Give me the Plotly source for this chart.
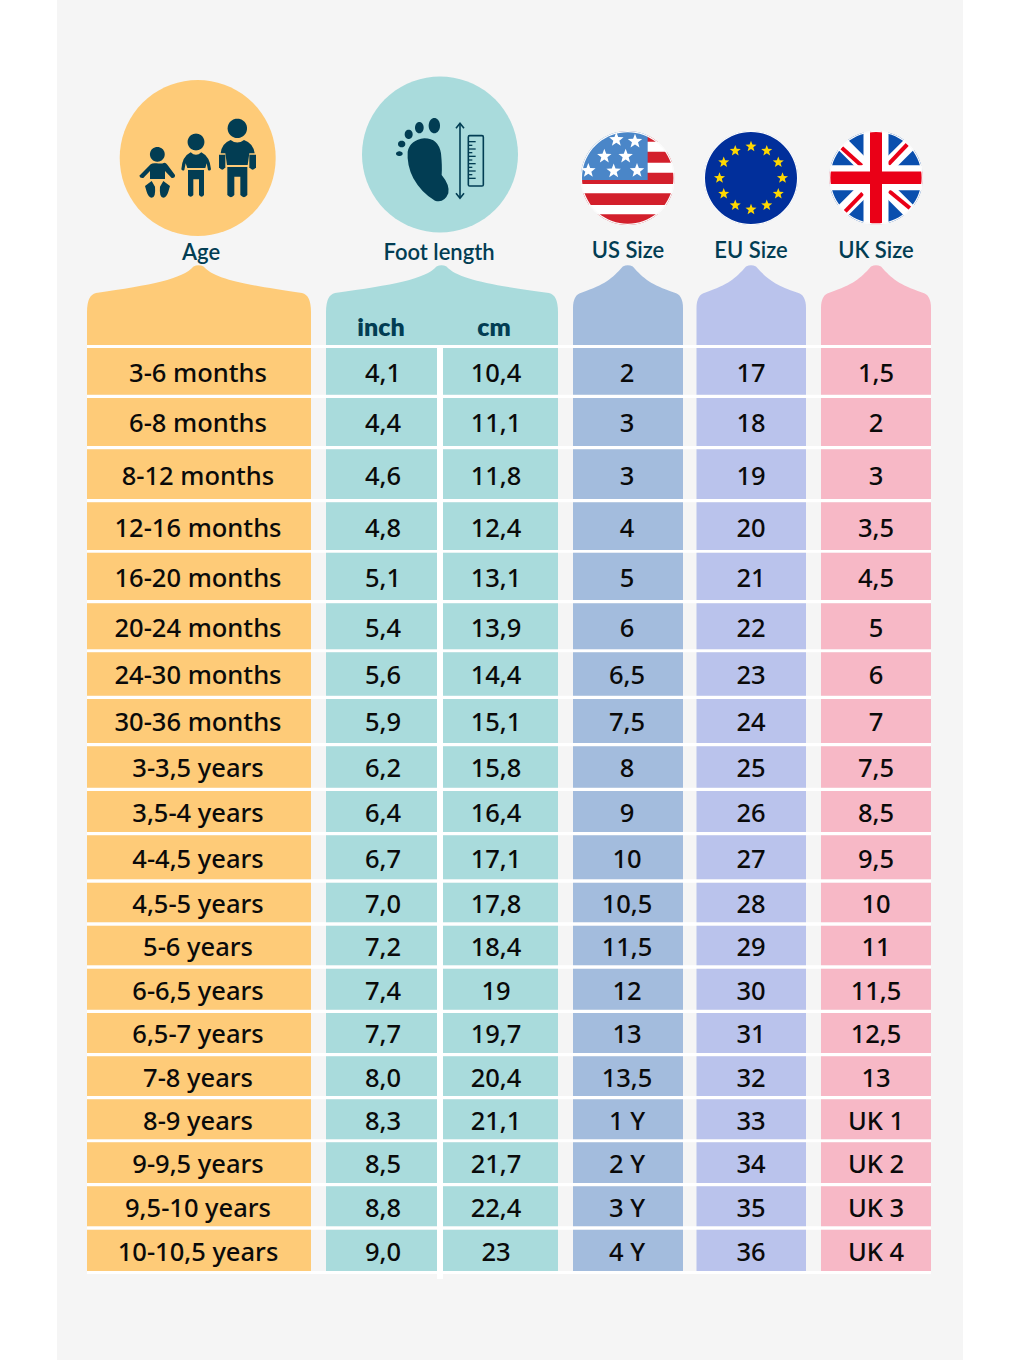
import numpy as np
import plotly.graph_objects as go

age_labels = ['3-6 months','6-8 months','8-12 months','12-16 months','16-20 months','20-24 months','24-30 months','30-36 months',
	'3-3,5 years','3,5-4 years','4-4,5 years','4,5-5 years','5-6 years','6-6,5 years','6,5-7 years','7-8 years','8-9 years',
	'9-9,5 years','9,5-10 years','10-10,5 years']
inch_values = ['4,1','4,4','4,6','4,8','5,1','5,4','5,6','5,9','6,2','6,4','6,7','7,0','7,2','7,4','7,7','8,0','8,3','8,5','8,8','9,0']
cm_values = ['10,4','11,1','11,8','12,4','13,1','13,9','14,4','15,1','15,8','16,4','17,1','17,8','18,4','19','19,7','20,4','21,1','21,7','22,4','23']
us_sizes = ['2','3','3','4','5','6','6,5','7,5','8','9','10','10,5','11,5','12','13','13,5','1 Y','2 Y','3 Y','4 Y']
eu_sizes = ['17','18','19','20','21','22','23','24','25','26','27','28','29','30','31','32','33','34','35','36']
uk_sizes = ['1,5','2','3','3,5','4,5','5','6','7','7,5','8,5','9,5','10','11','11,5','12,5','13','UK 1','UK 2','UK 3','UK 4']

# layout of the sheet, in page pixels
row_top = [348,398,449.3,502.3,552.7,603.3,652.3,699,746.3,791,835.3,882.7,925.7,968.7,1013,1056.3,1099.3,1142.3,1186.3,1229.7]
row_bottom = [394.7,446,499,550,600,649.3,695.7,743,787.7,832,879.3,922.3,965.3,1009.7,1053,1096,1139.3,1183,1226.3,1271]
DARK = '#023d53'
BG = '#f5f5f5'
FONT = 'Lato'
columns = [
	dict(values=age_labels, left=87, right=311, text_x=198, color='#fecb78'),
	dict(values=inch_values, left=326, right=437, text_x=383, color='#a9dbdc'),
	dict(values=cm_values, left=443, right=558, text_x=496, color='#a9dbdc'),
	dict(values=us_sizes, left=573, right=683, text_x=627, color='#a3bcdd'),
	dict(values=eu_sizes, left=696.5, right=806, text_x=751, color='#bac3ec'),
	dict(values=uk_sizes, left=821, right=931, text_x=876, color='#f7b8c6'),
]

shapes = []

def add_path(path, fill=DARK, line_color=None, line_width=0):
	shapes.append(dict(
		type = 'path',
		path = path,
		xref = 'x',
		yref = 'y',
		fillcolor = fill,
		line = dict(color=line_color or fill, width=line_width),
		layer = 'below',
	))

def add_rect(x0, y0, x1, y1, fill):
	shapes.append(dict(type='rect', x0=x0, y0=y0, x1=x1, y1=y1, xref='x', yref='y', fillcolor=fill, line=dict(width=0), layer='below'))

def add_line(x0, y0, x1, y1, color, width):
	shapes.append(dict(type='line', x0=x0, y0=y0, x1=x1, y1=y1, xref='x', yref='y', line=dict(color=color, width=width), layer='below'))

def ellipse_path(cx, cy, rx, ry, reverse=False):
	t = np.linspace(0, 2*np.pi, 73)[:-1]
	if reverse:
		t = t[::-1]
	pts = [f'{cx+rx*np.cos(a):.2f},{cy+ry*np.sin(a):.2f}' for a in t]
	return 'M' + ' L'.join(pts) + ' Z'

def add_circle(cx, cy, r, fill):
	add_path(ellipse_path(cx, cy, r, r), fill)

def add_star(cx, cy, r, fill):
	pts = []
	for k in range(10):
		a = -np.pi/2 + k*np.pi/5
		rr = r if k % 2 == 0 else r*0.42
		pts.append(f'{cx+rr*np.cos(a):.2f},{cy+rr*np.sin(a):.2f}')
	add_path('M' + ' L'.join(pts) + ' Z', fill)

def crop_path(segments, ox, oy, scale=1/3):
	# icon outlines were traced on 3x crops, bring them back to page pixels
	out = []
	for token in segments.split():
		if ',' in token:
			x, y = token.split(',')
			out.append(f'{ox+float(x)*scale:.2f},{oy+float(y)*scale:.2f}')
		else:
			out.append(token)
	return ' '.join(out)

def add_cap(left, right, peak_x, peak_y, shoulder_y, corner_y, bottom, fill):
	# the tab on top of every column
	path = (
		f'M{left},{bottom} L{left},{corner_y} Q{left},{shoulder_y+1} {left+9},{shoulder_y-1} '
		f'C{peak_x-(peak_x-left)*0.42},{shoulder_y-9} {peak_x-16},{peak_y+14} {peak_x-5},{peak_y+1.5} '
		f'Q{peak_x},{peak_y-1} {peak_x+5},{peak_y+1.5} '
		f'C{peak_x+16},{peak_y+14} {peak_x+(right-peak_x)*0.42},{shoulder_y-9} {right-9},{shoulder_y-1} '
		f'Q{right},{shoulder_y+1} {right},{corner_y} L{right},{bottom} Z'
	)
	add_path(path, fill)

def add_flag_mask(cx, cy, r):
	# flags are drawn square, this hides everything outside the disc
	o = r + 10
	mask = f'M{cx-o},{cy-o} L{cx+o},{cy-o} L{cx+o},{cy+o} L{cx-o},{cy+o} Z ' + ellipse_path(cx, cy, r+1.3, r+1.3, reverse=True)
	add_path(mask, BG)
	add_path(ellipse_path(cx, cy, r+1.3, r+1.3) + ' ' + ellipse_path(cx, cy, r, r, reverse=True), '#fbfbfb')

add_rect(57, 0, 963, 1360, BG)

add_circle(197.7, 158, 78, '#fecb78')
add_circle(440, 154.5, 78, '#a9dbdc')

add_cap(87, 311, 198.5, 265, 294, 312, 345, '#fecb78')
add_cap(326, 558, 441.5, 265, 294, 312, 345, '#a9dbdc')
add_cap(573, 683, 627.8, 265, 293.5, 308, 345, '#a3bcdd')
add_cap(696.5, 806, 751, 265, 293.5, 308, 345, '#bac3ec')
add_cap(821, 931, 876, 265, 293.5, 308, 345, '#f7b8c6')

# white rules between the rows, they run through the gaps as well
rule_top = [345] + row_bottom
rule_bottom = row_top + [1274]
for y0, y1 in zip(rule_top, rule_bottom):
	add_rect(87, y0, 931, y1, 'white')
add_rect(437, 348, 443, 1279, 'white')

# people icon
ox, oy = 130, 110
add_circle(ox+82/3, oy+133/3, 7.4, DARK)
add_path(crop_path('M 28,197 L 62,163 Q 68,158 80,160 Q 95,162 103,158 Q 108,158 112,164 L 135,195 Q 136,205 125,204 L 105,183 L 105,207 L 60,207 L 60,183 L 40,204 Q 30,206 28,197 Z', ox, oy))
add_path(crop_path('M 45,228 L 65,213 L 75,230 Q 78,262 65,263 Q 55,262 50,245 Z', ox, oy))
add_path(crop_path('M 120,228 L 100,213 L 90,230 Q 87,262 100,263 Q 110,262 115,245 Z', ox, oy))
add_circle(ox+198/3, oy+96/3, 8.4, DARK)
add_path(crop_path('M 154,178 Q 156,140 182,127 Q 198,142 214,127 Q 240,140 243,178 Q 240,184 234,180 L 230,160 L 226,174 L 172,174 L 167,160 L 163,180 Q 158,184 154,178 Z', ox, oy))
add_path(crop_path('M 174,180 L 222,180 L 222,255 Q 215,265 207,255 L 207,208 L 190,208 L 190,255 Q 182,265 174,255 Z', ox, oy))
add_circle(ox+322/3, oy+55/3, 9.7, DARK)
add_path(crop_path('M 272,130 Q 275,100 302,90 Q 322,105 342,90 Q 370,100 374,130 L 358,130 L 353,165 L 291,165 L 286,130 Z', ox, oy))
add_path(crop_path('M 292,171 L 352,171 L 352,255 Q 342,268 331,255 L 331,200 L 313,200 L 313,255 Q 303,268 292,255 Z', ox, oy))
add_path(crop_path('M 267,134 L 286,134 L 286,172 Q 277,186 267,172 Z', ox, oy))
add_path(crop_path('M 358,134 L 378,134 L 378,172 Q 368,186 358,172 Z', ox, oy))

# foot icon
ox, oy = 385, 110
for cx, cy, rx, ry in [(148,47,17,23),(103,53,13,17),(71,73,12,14),(50,102,11,10),(43,131,10,7)]:
	add_path(ellipse_path(ox+cx/3, oy+cy/3, rx/3, ry/3))
add_path(crop_path('M 118,85 Q 160,85 168,130 Q 172,170 170,195 Q 195,225 190,250 Q 178,280 150,272 Q 110,250 85,205 Q 65,165 68,125 Q 75,90 118,85 Z', ox, oy))
add_line(ox+225/3, oy+42/3, ox+225/3, oy+262/3, DARK, 1.6)
add_path(crop_path('M 213,55 L 225,40 L 237,55', ox, oy), 'rgba(0,0,0,0)', DARK, 1.6)
add_path(crop_path('M 213,250 L 225,265 L 237,250', ox, oy), 'rgba(0,0,0,0)', DARK, 1.6)
add_path(crop_path('M 254,77 L 291,77 Q 295,77 295,81 L 295,224 Q 295,228 291,228 L 254,228 Q 250,228 250,224 L 250,81 Q 250,77 254,77 Z', ox, oy), 'rgba(0,0,0,0)', DARK, 1.6)
for k, tick_y in enumerate(range(95, 215, 11)):
	add_line(ox+251/3, oy+tick_y/3, ox+(272 if k % 2 == 0 else 262)/3, oy+tick_y/3, DARK, 1.3)

# US flag
cx, cy, r = 627.7, 178, 45.7
ox, oy = 575, 125
add_rect(cx-r-1, cy-r-1, cx+r+1, cy+r+1, 'white')
for y0, y1 in [(18,50),(80,113),(143,177),(205,240),(268,300)]:
	add_rect(cx-r-1, oy+y0/3, cx+r+1, oy+y1/3, '#d3202c')
add_rect(cx-r-1, cy-r-1, ox+218/3, oy+165/3, '#4a86c8')
for sx, sy in [(124,44),(180,49),(88,94),(152,94),(40,137),(116,138),(186,137)]:
	add_star(ox+sx/3, oy+sy/3, 7.6, 'white')
add_flag_mask(cx, cy, r)

# EU flag
cx, cy, r = 751, 178, 46
add_circle(cx, cy, r+1, '#012f9b')
for k in range(12):
	a = k*np.pi/6
	add_star(cx+31.5*np.sin(a), cy-31.5*np.cos(a), 5.8, '#ffd800')
add_flag_mask(cx, cy, r)

# UK flag
cx, cy, r = 876, 177.7, 45.6
ox, oy = 825, 125
add_rect(cx-r-1, cy-r-1, cx+r+1, cy+r+1, '#0a4fae')
add_line(cx-r, cy-r, cx+r, cy+r, 'white', 14)
add_line(cx-r, cy+r, cx+r, cy-r, 'white', 14)
for x0, y0, x1, y1 in [(50,68,110,122),(190,118,248,57),(60,260,113,205),(192,198,255,250)]:
	add_line(ox+x0/3, oy+y0/3, ox+x1/3, oy+y1/3, '#ea0017', 4)
add_rect(cx-r-1, cy-12.5, cx+r+1, cy+12.5, 'white')
add_rect(cx-12.5, cy-r-1, cx+12.5, cy+r+1, 'white')
add_rect(cx-r-1, cy-6.3, cx+r+1, cy+6.3, '#ea0017')
add_rect(cx-6, cy-r-1, cx+6, cy+r+1, '#ea0017')
add_flag_mask(cx, cy, r)

fig = go.Figure()
row_height = [b-t for t, b in zip(row_top, row_bottom)]
row_center = [(t+b)/2 for t, b in zip(row_top, row_bottom)]
text_y = [c+4 for c in row_center]
for col in columns:
	fig.add_trace(
		go.Bar(
			y = row_center,
			x = [col['right']-col['left']]*len(row_center),
			base = col['left'],
			width = row_height,
			orientation = 'h',
			marker = dict(color=col['color'], line=dict(width=0)),
			hoverinfo = 'skip',
		)
	)
	fig.add_trace(
		go.Scatter(
			x = [col['text_x']]*len(row_center),
			y = text_y,
			text = col['values'],
			mode = 'text',
			textposition = 'middle center',
			textfont = dict(family='Noto Sans', size=25.5, color='#0a0a0a', weight=500),
			hoverinfo = 'skip',
		)
	)

header_labels = ['Age','Foot length','US Size','EU Size','UK Size']
fig.add_trace(
	go.Scatter(
		x = [201,439,628,751,876],
		y = [254,254,252,252,252],
		text = header_labels,
		mode = 'text',
		textposition = 'middle center',
		textfont = dict(family=FONT, size=22, color=DARK, weight=600),
		hoverinfo = 'skip',
	)
)
unit_labels = ['inch','cm']
fig.add_trace(
	go.Scatter(
		x = [381,494],
		y = [330,330],
		text = unit_labels,
		mode = 'text',
		textposition = 'middle center',
		textfont = dict(family=FONT, size=25, color=DARK, weight=800),
		hoverinfo = 'skip',
	)
)

fig.update_layout(
	width = 1020,
	height = 1360,
	margin = dict(l=0, r=0, t=0, b=0),
	paper_bgcolor = 'white',
	plot_bgcolor = 'white',
	showlegend = False,
	barmode = 'overlay',
	shapes = shapes,
)
fig.update_xaxes(range=[0,1020], visible=False, fixedrange=True)
fig.update_yaxes(range=[1360,0], visible=False, fixedrange=True)
fig.write_html("out.html", post_script="document.body.style.margin='0';", config=dict(displayModeBar=False))
